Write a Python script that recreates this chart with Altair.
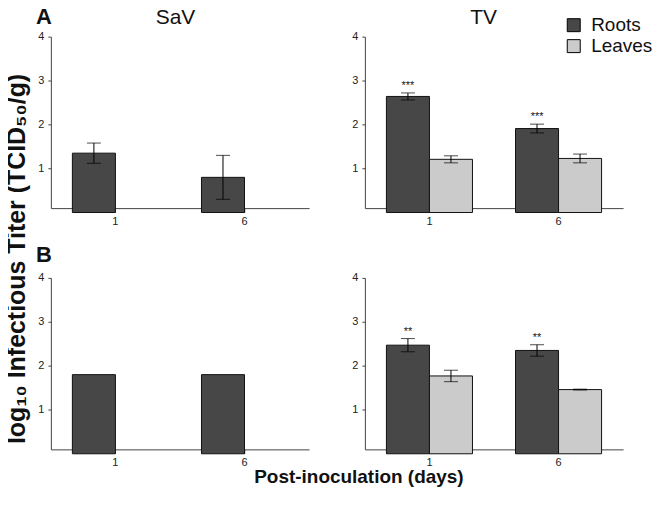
import altair as alt
import pandas as pd
import numpy as np

days = ["1", "6"]
tissues = ["Roots", "Leaves"]

# Panel A
a_sav_roots = [1.35, 0.80]
a_sav_roots_err = [0.23, 0.50]
a_tv_roots = [2.64, 1.91]
a_tv_roots_err = [0.08, 0.10]
a_tv_leaves = [1.21, 1.23]
a_tv_leaves_err = [0.08, 0.10]
a_tv_stars = ["***", "***"]

# Panel B
b_sav_roots = [1.80, 1.80]
b_tv_roots = [2.47, 2.35]
b_tv_roots_err = [0.15, 0.13]
b_tv_leaves = [1.77, 1.46]
b_tv_leaves_err = [0.13, 0.01]
b_tv_stars = ["**", "**"]

FONT = "Liberation Sans"
PW, PH = 259, 172


def make_df(roots, roots_err=None, leaves=None, leaves_err=None, stars=None):
    rows = []
    for i, d in enumerate(days):
        e = roots_err[i] if roots_err else np.nan
        rows.append({"day": d, "tissue": "Roots", "value": roots[i],
                     "lo": roots[i] - e, "hi": roots[i] + e,
                     "star": stars[i] if stars else ""})
        if leaves:
            e2 = leaves_err[i] if leaves_err else np.nan
            rows.append({"day": d, "tissue": "Leaves", "value": leaves[i],
                         "lo": leaves[i] - e2, "hi": leaves[i] + e2, "star": ""})
    return pd.DataFrame(rows)


def label(text, x, y, size, weight="normal", angle=0, baseline="middle"):
    kw = dict(font=FONT, fontSize=size, fontWeight=weight, align="center",
              baseline=baseline, color="#111")
    if angle:
        kw["angle"] = angle
    return alt.Chart(pd.DataFrame({"t": [text]})).mark_text(**kw).encode(
        text="t:N", x=alt.value(x), y=alt.value(y))


def panel(df, title=None, title_x=125, letter=None, letter_y=-20, show_legend=False,
          ytitle=False, xtitle=False):
    base = alt.Chart(df)
    x = alt.X("day:N", sort=days,
              scale=alt.Scale(domain=days, paddingInner=1 / 3, paddingOuter=1 / 6),
              axis=alt.Axis(title=None, labelAngle=0, labelFont=FONT, labelFontSize=11,
                            labelColor="#222", tickSize=4, labelPadding=3,
                            domainColor="#444", tickColor="#444"))
    xo = alt.XOffset("tissue:N", sort=tissues,
                     scale=alt.Scale(domain=tissues, paddingInner=0, paddingOuter=0))
    yscale = alt.Scale(domain=[0.1, 4], nice=False, zero=False)
    y = alt.Y("value:Q", scale=yscale,
              axis=alt.Axis(title=None, values=[1, 2, 3, 4], grid=False, labelFont=FONT,
                            labelFontSize=11, labelColor="#222", tickSize=3, labelPadding=4,
                            domainColor="#444", tickColor="#444"))
    if show_legend:
        leg = alt.Legend(title=None, orient="none", legendX=200, legendY=-21,
                         symbolType="square", symbolSize=169, symbolStrokeColor="black",
                         symbolStrokeWidth=1, labelFont=FONT, labelFontSize=19,
                         labelColor="#111", rowPadding=1, labelOffset=8)
    else:
        leg = None
    color = alt.Color("tissue:N", sort=tissues,
                      scale=alt.Scale(domain=tissues, range=["#474747", "#cbcbcb"]),
                      legend=leg)
    bars = base.mark_bar(stroke="#111", strokeWidth=1).encode(x=x, xOffset=xo, y=y, color=color)
    edf = base.transform_filter("isValid(datum.lo) && datum.hi > datum.lo")
    rule = edf.mark_rule(color="black", strokeWidth=1).encode(
        x=x, xOffset=xo, y=alt.Y("lo:Q", scale=yscale), y2="hi:Q")
    tlo = edf.mark_tick(color="black", size=14, thickness=1).encode(
        x=x, xOffset=xo, y=alt.Y("lo:Q", scale=yscale))
    thi = edf.mark_tick(color="black", size=14, thickness=1).encode(
        x=x, xOffset=xo, y=alt.Y("hi:Q", scale=yscale))
    stars = base.transform_filter("datum.star != ''").mark_text(
        font=FONT, fontSize=11, baseline="bottom", dy=-2, color="#222").encode(
        x=x, xOffset=xo, y=alt.Y("hi:Q", scale=yscale), text="star:N")
    layers = [bars, rule, tlo, thi, stars]
    if title:
        layers.append(label(title, title_x, -13, 21, baseline="alphabetic"))
    if letter:
        layers.append(label(letter, -7, letter_y, 22, weight="bold"))
    if ytitle:
        layers.append(label("log\u2081\u2080 Infectious Titer (TCID\u2085\u2080/g)", -34, 223, 25,
                            weight="bold", angle=270))
    if xtitle:
        layers.append(label("Post-inoculation (days)", 309, 200, 19, weight="bold"))
    return alt.layer(*layers).properties(width=PW, height=PH)


tl = panel(make_df(a_sav_roots, a_sav_roots_err), title="SaV", title_x=125, letter="A",
           letter_y=-20, ytitle=True)
tr = panel(make_df(a_tv_roots, a_tv_roots_err, a_tv_leaves, a_tv_leaves_err, a_tv_stars),
           title="TV", title_x=119, show_legend=True)
bl = panel(make_df(b_sav_roots), letter="B", letter_y=-23, xtitle=True)
br = panel(make_df(b_tv_roots, b_tv_roots_err, b_tv_leaves, b_tv_leaves_err, b_tv_stars))

chart = alt.concat(tl, tr, bl, br, columns=2, spacing=alt.RowColnumber(row=70, column=56),
                   bounds="flush").properties(
    padding={"left": -4, "top": -3, "right": -1, "bottom": 0}
).configure_view(stroke=None).resolve_scale(color="independent")

chart.save("out.html", embed_options={"renderer": "svg", "actions": False})
